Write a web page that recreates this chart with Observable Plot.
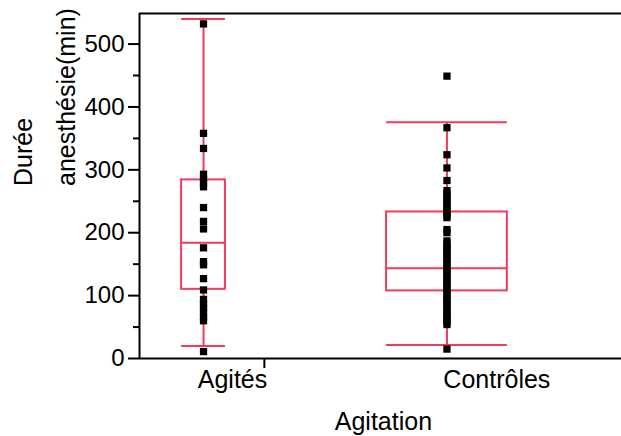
<!DOCTYPE html>
<html>
<head>
<meta charset="utf-8">
<script src="https://cdn.jsdelivr.net/npm/d3@7"></script>
<script src="https://cdn.jsdelivr.net/npm/@observablehq/plot@0.6"></script>
<style>
  html, body { margin: 0; padding: 0; background: #fff; }
  svg { display: block; }
</style>
</head>
<body>
<div id="chart"></div>
<script>
// ---- data ----
const groups = ["Agités", "Contrôles"];
const whiskerLow = [20, 21.5];
const q1 = [110, 107.5];
const median = [184, 143.6];
const q3 = [284, 233];
const whiskerHigh = [540, 375.5];
const groupWidth = [0.18, 0.496]; // relative box width (proportional to group size)

const agitesValues = [532, 358, 334, 293, 286, 279, 273, 240, 218, 206, 176, 154, 149, 127, 109,
  94, 87, 80, 73, 66, 60, 11];
const controlesValues = [449, 367, 324, 303, 283, 267, 262, 257, 252, 247, 242, 237, 232, 228, 224,
  205, 200, 187, 182, 177, 172, 168, 163, 158, 153, 148, 143, 139, 134, 129, 124, 119, 115,
  110, 105, 100, 95, 91, 86, 81, 76, 71, 67, 62, 58, 54, 15];

const yMajor = [0, 100, 200, 300, 400, 500];
const yMinor = [50, 150, 250, 350, 450];
const xTitle = "Agitation";
const yTitle = "Durée\nanesthésie(min)";

// ---- derived tables ----
const red = "#f03c5a";
const stats = groups.map((g, i) => ({
  g, pos: i + 1, lo: whiskerLow[i], q1: q1[i], med: median[i], q3: q3[i], hi: whiskerHigh[i],
  x1: i + 1 - groupWidth[i] / 2, x2: i + 1 + groupWidth[i] / 2
}));
const points = [
  ...agitesValues.map(v => ({pos: 1, v})),
  ...controlesValues.map(v => ({pos: 2, v}))
];
const xMin = 0.737, xMax = 2.717, yMax = 548.6;
const labelPos = groups.map((g, i) => ({g, x: i === 0 ? 1.119 : 2.205}));

const chart = Plot.plot({
  width: 621,
  height: 436,
  marginLeft: 139,
  marginRight: 0,
  marginTop: 13,
  marginBottom: 78,
  style: {fontFamily: "'Liberation Sans', Arial, sans-serif", color: "#000", background: "#fff"},
  x: {domain: [xMin, xMax], axis: null},
  y: {domain: [0, yMax], axis: null},
  marks: [
    // y axis ticks
    Plot.axisY({ticks: yMajor, tickSize: 11, tickPadding: 4, fontSize: 24, strokeWidth: 2, label: null}),
    Plot.axisY({ticks: yMinor, tickSize: 6, tickFormat: () => "", strokeWidth: 2, label: null}),
    Plot.axisX({ticks: [1.25], tickSize: 10, tickFormat: () => "", strokeWidth: 2, label: null}),
    // frame lines
    Plot.ruleX([xMin], {stroke: "#000", strokeWidth: 2}),
    Plot.ruleY([0], {stroke: "#000", strokeWidth: 2}),
    Plot.ruleY([yMax], {stroke: "#000", strokeWidth: 2}),
    // whiskers
    Plot.ruleX(stats, {x: "pos", y1: "q3", y2: "hi", stroke: red, strokeWidth: 2}),
    Plot.ruleX(stats, {x: "pos", y1: "lo", y2: "q1", stroke: red, strokeWidth: 2}),
    Plot.ruleY(stats, {y: "hi", x1: "x1", x2: "x2", stroke: red, strokeWidth: 2}),
    Plot.ruleY(stats, {y: "lo", x1: "x1", x2: "x2", stroke: red, strokeWidth: 2}),
    // boxes
    Plot.rect(stats, {x1: "x1", x2: "x2", y1: "q1", y2: "q3", fill: "none", stroke: red, strokeWidth: 2}),
    Plot.ruleY(stats, {y: "med", x1: "x1", x2: "x2", stroke: red, strokeWidth: 2}),
    // points
    Plot.dot(points, {x: "pos", y: "v", symbol: "square", r: 4.1, fill: "#000", stroke: "none"}),
    // x category labels
    Plot.text(labelPos, {x: "x", text: "g", frameAnchor: "bottom", lineAnchor: "top", dy: 12, fontSize: 25, fill: "#000"}),
    // x title
    Plot.text([xTitle], {x: [1.739], text: d => d, frameAnchor: "bottom", lineAnchor: "top", dy: 54, fontSize: 25, fill: "#000"}),
    // y title
    Plot.text([yTitle], {text: d => d, frameAnchor: "left", rotate: -90, dx: -100, lineHeight: 1.75, fontSize: 25, fill: "#000"})
  ]
});
document.getElementById("chart").appendChild(chart);
</script>
</body>
</html>
